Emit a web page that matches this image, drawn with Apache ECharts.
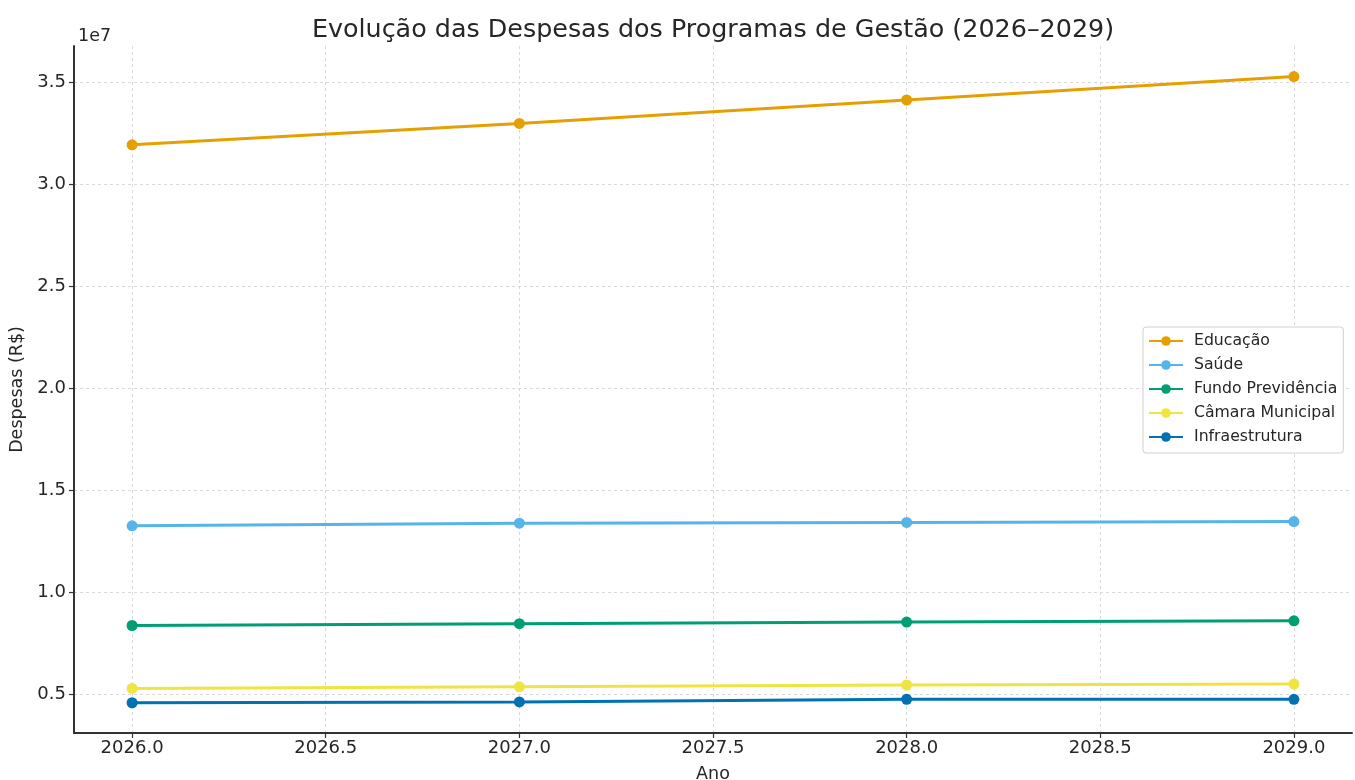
<!DOCTYPE html>
<html>
<head>
<meta charset="utf-8">
<script src="https://cdn.jsdelivr.net/npm/echarts@6/dist/echarts.min.js"></script>
<style>
  html, body { margin: 0; padding: 0; background: #fff; }
  #chart { width: 1355px; height: 780px; }
</style>
</head>
<body>
<div id="chart"></div>
<script>
// Anos e despesas (em unidades de 1e7 R$)
const anos = [2026, 2027, 2028, 2029];
const educacao = [3.195, 3.300, 3.415, 3.530];
const saude = [1.325, 1.338, 1.342, 1.346];
const fundoPrevidencia = [0.836, 0.845, 0.853, 0.859];
const camaraMunicipal = [0.527, 0.535, 0.544, 0.549];
const infraestrutura = [0.457, 0.461, 0.474, 0.474];

const seriesNames = ['Educação', 'Saúde', 'Fundo Previdência', 'Câmara Municipal', 'Infraestrutura'];
const seriesValues = [educacao, saude, fundoPrevidencia, camaraMunicipal, infraestrutura];
const cores = ['#E69F00', '#56B4E9', '#009E73', '#F0E442', '#0072B2'];

const xTicks = [2026, 2026.5, 2027, 2027.5, 2028, 2028.5, 2029];
const yTicks = [0.5, 1.0, 1.5, 2.0, 2.5, 3.0, 3.5];

const FONT = 'DejaVu Sans';
const TXT = '#262626';

const chart = echarts.init(document.getElementById('chart'), null, { renderer: 'canvas' });

chart.setOption({
  backgroundColor: '#fff',
  animation: false,
  title: [
    {
      text: 'Evolução das Despesas dos Programas de Gestão (2026–2029)',
      left: 708, top: 13, textAlign: 'center',
      textStyle: { fontFamily: FONT, fontSize: 25.4, fontWeight: 'normal', color: TXT }
    },
    {
      text: '1e7',
      left: 73, top: 22,
      textStyle: { fontFamily: FONT, fontSize: 17.5, fontWeight: 'normal', color: TXT }
    }
  ],
  legend: {
    orient: 'vertical',
    left: 1143, top: 327,
    padding: [6, 6, 8, 5],
    backgroundColor: '#fff',
    borderColor: '#d0d0d0',
    borderWidth: 1,
    borderRadius: 3,
    itemWidth: 34,
    itemHeight: 12,
    itemGap: 8,
    data: seriesNames,
    textStyle: { fontFamily: FONT, fontSize: 15.7, color: TXT, padding: [0, 0, 0, 6] }
  },
  grid: { left: 74, right: 3, top: 46, bottom: 47, containLabel: false, outerBoundsMode: 'none' },
  xAxis: {
    type: 'value',
    min: 2025.85, max: 2029.15,
    name: 'Ano',
    nameLocation: 'middle',
    nameGap: 32,
    nameTextStyle: { fontFamily: FONT, fontSize: 17.5, color: TXT },
    axisLine: { show: true, lineStyle: { color: '#333', width: 2 } },
    axisTick: { show: true, customValues: xTicks, length: 5, lineStyle: { color: '#333', width: 1.2 } },
    axisLabel: {
      customValues: xTicks,
      formatter: v => v.toFixed(1),
      fontFamily: FONT, fontSize: 18, color: TXT, margin: 6
    },
    splitLine: { show: true, lineStyle: { color: '#d9d9d9', type: [3, 3], width: 1 } }
  },
  yAxis: {
    type: 'value',
    min: 0.3085, max: 3.68,
    name: 'Despesas (R$)',
    nameLocation: 'middle',
    nameGap: 42,
    nameTextStyle: { fontFamily: FONT, fontSize: 17.5, color: TXT },
    axisLine: { show: true, lineStyle: { color: '#333', width: 2 } },
    axisTick: { show: true, customValues: yTicks, length: 5, lineStyle: { color: '#333', width: 1.2 } },
    axisLabel: {
      customValues: yTicks,
      formatter: v => v.toFixed(1),
      fontFamily: FONT, fontSize: 18, color: TXT, margin: 8
    },
    splitLine: { show: true, lineStyle: { color: '#d9d9d9', type: [3, 3], width: 1 } }
  },
  series: seriesNames.map((name, i) => ({
    name,
    type: 'line',
    data: anos.map((a, j) => [a, seriesValues[i][j]]),
    color: cores[i],
    symbol: 'circle',
    symbolSize: 11,
    lineStyle: { width: 3 },
    itemStyle: { color: cores[i] },
    emphasis: { disabled: true }
  }))
});
</script>
</body>
</html>
